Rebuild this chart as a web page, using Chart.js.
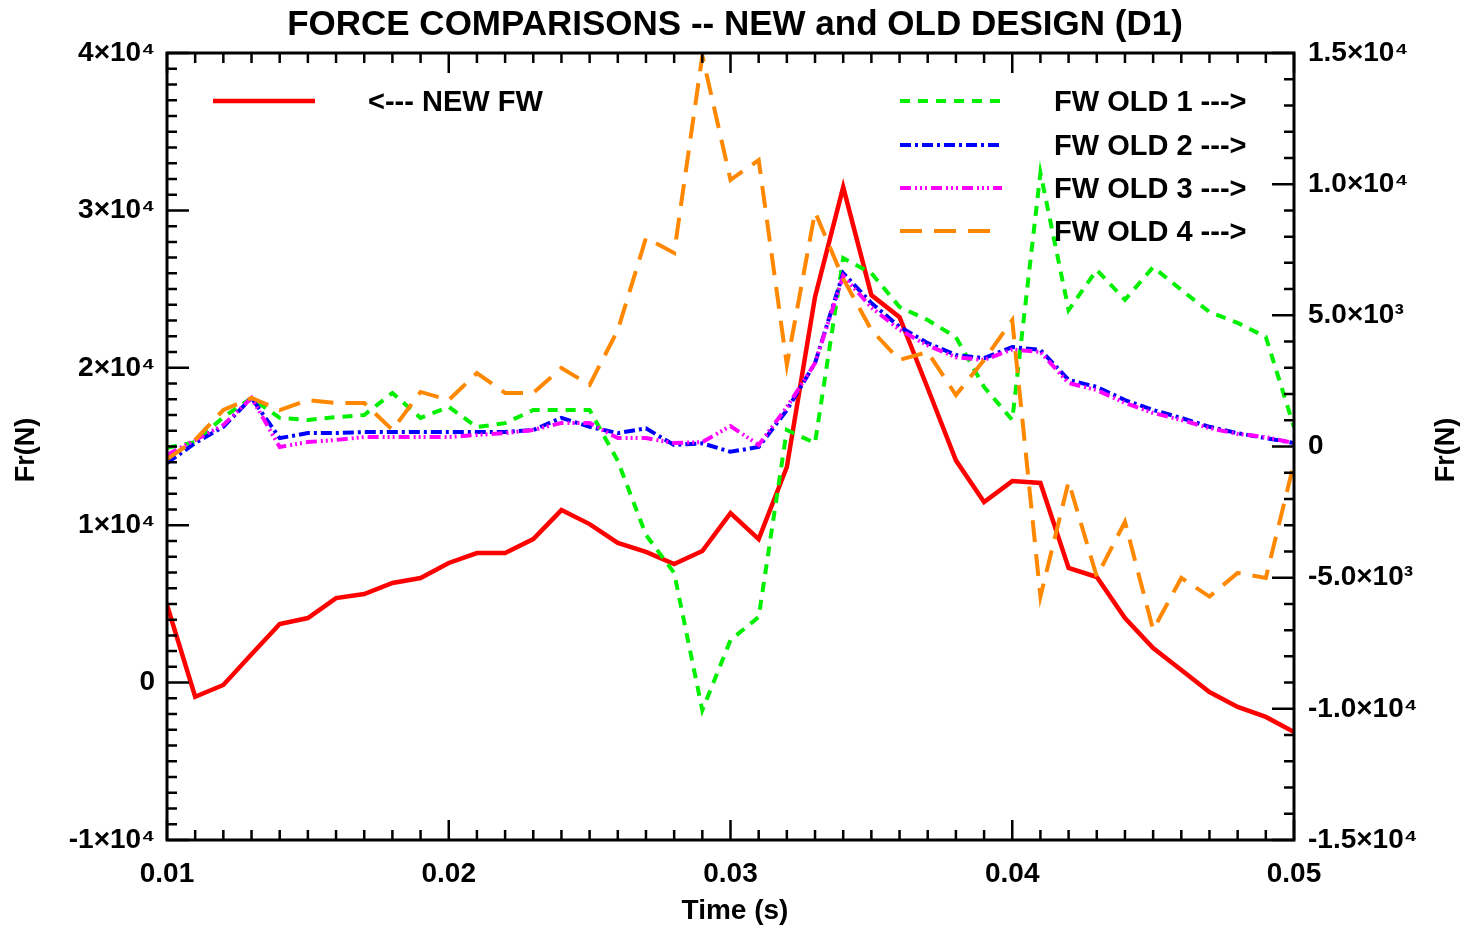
<!DOCTYPE html>
<html><head><meta charset="utf-8">
<script src="https://cdn.jsdelivr.net/npm/chart.js@4"></script>
<style>html,body{margin:0;padding:0;background:#fff}#wrap{width:1468px;height:928px;position:relative}</style>
</head><body><div id="wrap"><canvas id="c"></canvas></div>
<script>
const times = [0.010,0.011,0.012,0.013,0.014,0.015,0.016,0.017,0.018,0.019,0.020,0.021,0.022,0.023,0.024,0.025,0.026,0.027,0.028,0.029,0.030,0.031,0.032,0.033,0.034,0.035,0.036,0.037,0.038,0.039,0.040,0.041,0.042,0.043,0.044,0.045,0.046,0.047,0.048,0.049,0.050];
const newFW = [4930,-900,-150,1800,3720,4100,5370,5630,6330,6640,7600,8230,8230,9120,10960,10070,8870,8300,7530,8360,10770,9120,13700,24500,31480,24620,23220,18700,14120,11470,12800,12680,7280,6710,4100,2200,800,-600,-1550,-2180,-3140];
const old1 = [-50,170,1120,1850,1090,1010,1120,1200,2040,1090,1510,740,890,1390,1390,1390,-550,-3370,-4820,-10050,-7380,-6500,630,130,7180,6610,5320,4820,4170,2270,1010,10430,5200,6730,5590,6840,5970,5130,4710,4180,740];
const old2 = [-630,130,750,1850,320,510,510,550,550,550,550,550,550,630,1090,750,510,690,60,120,-200,-20,1390,3180,6610,5470,4560,3940,3490,3370,3790,3680,2540,2270,1770,1390,1090,750,510,320,130];
const old3 = [-320,250,820,1850,-20,170,250,360,360,360,360,440,510,630,900,900,320,320,130,170,780,60,1500,3180,6500,5300,4450,3850,3400,3300,3700,3600,2420,2150,1660,1280,1010,700,480,360,130];
const old4 = [-480,250,1390,1850,1390,1770,1660,1660,630,2080,1770,2800,2040,2040,2990,2350,4440,7950,7380,14900,10160,10920,3110,8940,6400,4440,3300,3600,1960,3300,4820,-5720,-1340,-4960,-2870,-6990,-5010,-5720,-4820,-5010,-630];
const xTickLabels = ['0.01','0.02','0.03','0.04','0.05'];
const leftTickLabels = ['-1×10⁴','0','1×10⁴','2×10⁴','3×10⁴','4×10⁴'];
const rightTickLabels = ['-1.5×10⁴','-1.0×10⁴','-5.0×10³','0','5.0×10³','1.0×10⁴','1.5×10⁴'];
const seriesNames = ['<--- NEW FW','FW OLD 1 --->','FW OLD 2 --->','FW OLD 3 --->','FW OLD 4 --->'];
const titleText = 'FORCE COMPARISONS -- NEW and OLD DESIGN (D1)';
const xTitle = 'Time (s)';
const yTitle = 'Fr(N)';

const FAM = "'Liberation Sans', Arial, Helvetica, sans-serif";
const pts = arr => arr.map((v,i)=>({x:times[i], y:v}));

const dsRed = {label:seriesNames[0], data:pts(newFW), yAxisID:'y', borderColor:'#ff0000', borderWidth:4.5, borderDash:[]};
const dsG = {label:seriesNames[1], data:pts(old1), yAxisID:'y1', borderColor:'#00f000', borderWidth:4, borderDash:[10,8]};
const dsB = {label:seriesNames[2], data:pts(old2), yAxisID:'y1', borderColor:'#0000ff', borderWidth:4, borderDash:[11,4,3,4]};
const dsM = {label:seriesNames[3], data:pts(old3), yAxisID:'y1', borderColor:'#ff00ff', borderWidth:4, borderDash:[11,4,2,3,2,3,2,4]};
const dsO = {label:seriesNames[4], data:pts(old4), yAxisID:'y1', borderColor:'#ff8800', borderWidth:4, borderDash:[22,12]};

const decor = {
  id:'decor',
  afterDraw(chart){
    const {ctx, chartArea:a, scales} = chart;
    const xs=scales.x, yl=scales.y, yr=scales.y1;
    ctx.save();
    ctx.strokeStyle='#000'; ctx.lineWidth=2.5; ctx.setLineDash([]);
    ctx.beginPath();
    for(let i=10;i<=50;i++){const px=xs.getPixelForValue(i/1000);const L=i%10===0?20:10;ctx.moveTo(px,a.bottom);ctx.lineTo(px,a.bottom-L);ctx.moveTo(px,a.top);ctx.lineTo(px,a.top+L);}
    for(let k=-10;k<=40;k++){const py=yl.getPixelForValue(k*1000);const L=k%10===0?22:10;ctx.moveTo(a.left,py);ctx.lineTo(a.left+L,py);}
    for(let k=-15;k<=15;k++){const py=yr.getPixelForValue(k*1000);const L=k%5===0?22:10;ctx.moveTo(a.right,py);ctx.lineTo(a.right-L,py);}
    ctx.stroke();
    ctx.lineWidth=3; ctx.strokeRect(a.left,a.top,a.right-a.left,a.bottom-a.top);
    // texts
    ctx.fillStyle='#000';
    ctx.textAlign='center'; ctx.textBaseline='middle';
    ctx.font='bold 35px '+FAM;
    ctx.fillText(titleText, 735, 25);
    ctx.font='bold 28px '+FAM;
    ctx.fillText(xTitle, 735, 911);
    ctx.font='bold 27px '+FAM;
    ctx.save(); ctx.translate(27,450); ctx.rotate(-Math.PI/2); ctx.fillText(yTitle,0,0); ctx.restore();
    ctx.save(); ctx.translate(1447,450); ctx.rotate(-Math.PI/2); ctx.fillText(yTitle,0,0); ctx.restore();
    // legend
    const ds = chart.data.datasets;
    const items = [
      {d:ds[4], x0:213, x1:315, y:101, tx:368},
      {d:ds[3], x0:900, x1:1002, y:101, tx:1054},
      {d:ds[2], x0:900, x1:1002, y:145, tx:1054},
      {d:ds[1], x0:900, x1:1002, y:188, tx:1054},
      {d:ds[0], x0:900, x1:1002, y:231, tx:1054}
    ];
    ctx.textAlign='left'; ctx.font='bold 29px '+FAM;
    items.forEach(it=>{
      ctx.beginPath(); ctx.strokeStyle=it.d.borderColor; ctx.lineWidth=it.d.borderWidth; ctx.setLineDash(it.d.borderDash);
      ctx.moveTo(it.x0,it.y); ctx.lineTo(it.x1,it.y); ctx.stroke();
      ctx.setLineDash([]); ctx.fillStyle='#000'; ctx.fillText(it.d.label, it.tx, it.y+2);
    });
    ctx.restore();
  }
};

const tickFont = {family:FAM, size:28, weight:'bold'};
new Chart(document.getElementById('c'), {
  type:'line',
  data:{datasets:[dsO, dsM, dsB, dsG, dsRed]},
  options:{
    responsive:true, maintainAspectRatio:false, animation:false,
    layout:{padding:{top:53,left:0,right:0,bottom:0}},
    elements:{line:{tension:0, fill:false, borderCapStyle:'butt'}, point:{radius:0}},
    plugins:{legend:{display:false}, tooltip:{enabled:false}, title:{display:false}},
    scales:{
      x:{type:'linear', min:0.01, max:0.05, grid:{display:false, drawTicks:false}, border:{display:false},
         ticks:{stepSize:0.01, autoSkip:false, maxRotation:0, padding:17, color:'#000', font:tickFont,
                callback:v=>xTickLabels[Math.round(v*100)-1]},
         afterFit:s=>{s.height=88;}},
      y:{type:'linear', position:'left', min:-10000, max:40000, grid:{display:false, drawTicks:false}, border:{display:false},
         ticks:{stepSize:10000, autoSkip:false, padding:12, color:'#000', font:tickFont,
                callback:v=>leftTickLabels[Math.round(v/10000)+1]},
         afterFit:s=>{s.width=167;}},
      y1:{type:'linear', position:'right', min:-15000, max:15000, grid:{display:false, drawTicks:false}, border:{display:false},
         ticks:{stepSize:5000, autoSkip:false, padding:14, color:'#000', font:tickFont,
                callback:v=>rightTickLabels[Math.round(v/5000)+3]},
         afterFit:s=>{s.width=174;}}
    }
  },
  plugins:[decor]
});
</script></body></html>
